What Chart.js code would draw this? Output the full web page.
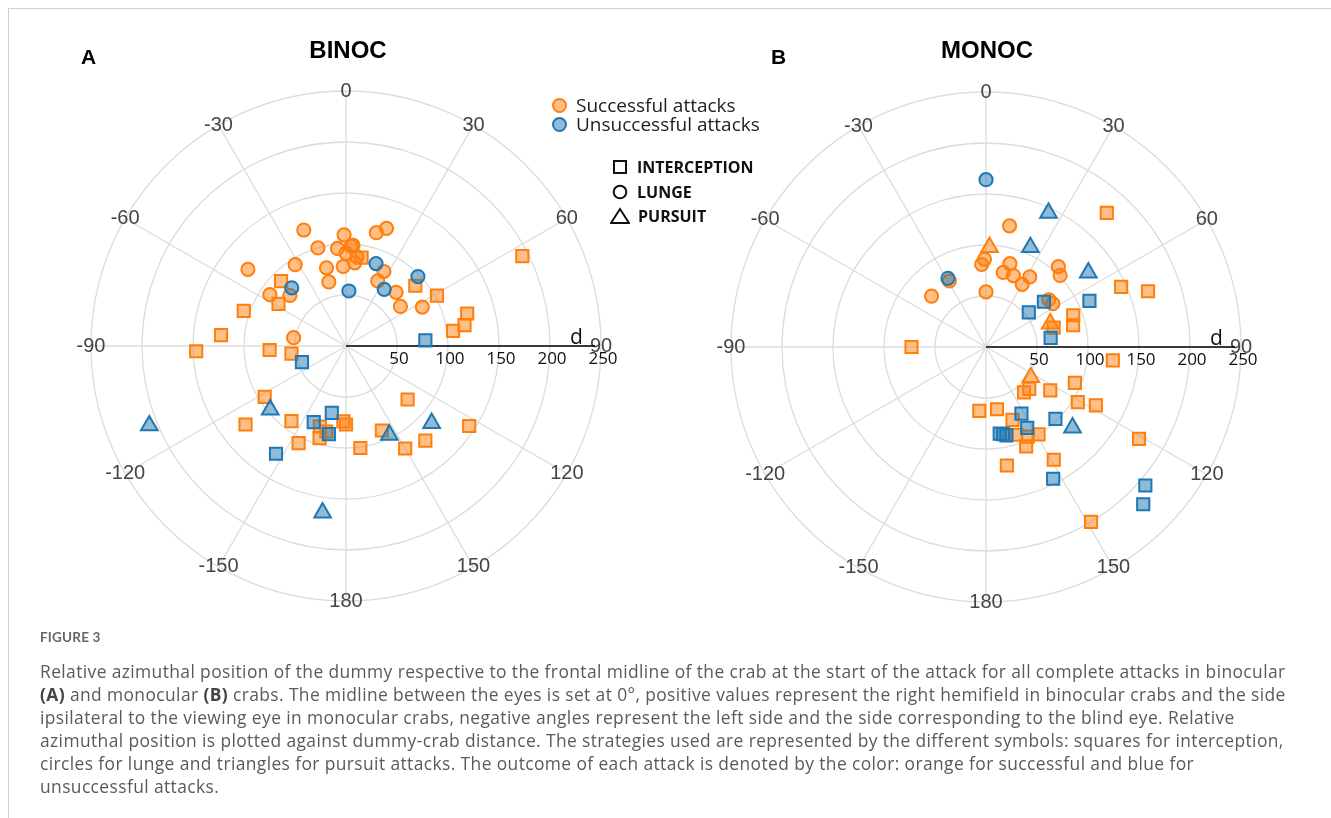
<!DOCTYPE html>
<html>
<head>
<meta charset="utf-8">
<script src="https://cdn.jsdelivr.net/npm/chart.js@4.4.1/dist/chart.umd.min.js"></script>
<style>
  body { margin: 0; width: 1331px; height: 818px; background: #fff; position: relative; overflow: hidden; font-family: "Liberation Sans", Arial, sans-serif; }
  .frame { position: absolute; left: 8px; top: 8px; right: -2px; bottom: -2px; border-left: 1px solid #d0d0d0; border-top: 1px solid #d0d0d0; }
  canvas { position: absolute; }
  .title { position: absolute; width: 200px; text-align: center; font: bold 24px "Liberation Sans", Arial, sans-serif; line-height: 24px; color: #000; }
  .letter { position: absolute; font: bold 21px "Liberation Sans", Arial, sans-serif; line-height: 22px; color: #000; }
  .lg { position: absolute; display: flex; align-items: center; height: 24px; white-space: nowrap; }
  .lg svg { margin-right: 8px; }
  .lg1 { font: 19px "Open Sans", sans-serif; color: #222; }
  .lg2 { font: bold 16px "Open Sans", sans-serif; color: #111; }
  .figno { position: absolute; left: 40px; top: 629px; font: bold 13.5px Lato, sans-serif; color: #666; letter-spacing: 0.2px; }
  .caption { position: absolute; left: 40px; top: 660px; font: 17.4px "Open Sans", sans-serif; letter-spacing: 0.4px; line-height: 23px; color: #5a5a5a; white-space: nowrap; }
  .caption b { color: #444; }
</style>
</head>
<body>
<div class="frame"></div>
<canvas id="binoc" width="640" height="640" style="left:26px; top:26px;"></canvas>
<canvas id="monoc" width="640" height="640" style="left:666px; top:27px;"></canvas>

<div class="letter" style="left:81px; top:46px;">A</div>
<div class="letter" style="left:771px; top:46px;">B</div>
<div class="title" style="left:248px; top:38px;">BINOC</div>
<div class="title" style="left:887px; top:38px;">MONOC</div>

<div class="lg lg1" style="left:551px; top:93px;">
  <svg width="17" height="17"><circle cx="8.5" cy="8.5" r="6.5" fill="rgba(255,127,14,0.5)" stroke="#ff7f0e" stroke-width="2"/></svg>Successful attacks</div>
<div class="lg lg1" style="left:551px; top:112px;">
  <svg width="17" height="17"><circle cx="8.5" cy="8.5" r="6.5" fill="rgba(31,119,180,0.5)" stroke="#1f77b4" stroke-width="2"/></svg>Unsuccessful attacks</div>
<div class="lg lg2" style="left:611px; top:155px;">
  <svg width="18" height="18"><rect x="3" y="3" width="12" height="12" fill="none" stroke="#111" stroke-width="2"/></svg>INTERCEPTION</div>
<div class="lg lg2" style="left:611px; top:180px;">
  <svg width="18" height="18"><circle cx="9" cy="9" r="6.3" fill="none" stroke="#111" stroke-width="2"/></svg>LUNGE</div>
<div class="lg lg2" style="left:610px; top:204px;">
  <svg width="20" height="18"><polygon points="10,2 19,16 1,16" fill="none" stroke="#111" stroke-width="2"/></svg>PURSUIT</div>

<div class="figno">FIGURE 3</div>
<div class="caption">Relative azimuthal position of the dummy respective to the frontal midline of the crab at the start of the attack for all complete attacks in binocular<br><b>(A)</b> and monocular <b>(B)</b> crabs. The midline between the eyes is set at 0°, positive values represent the right hemifield in binocular crabs and the side<br>ipsilateral to the viewing eye in monocular crabs, negative angles represent the left side and the side corresponding to the blind eye. Relative<br>azimuthal position is plotted against dummy-crab distance. The strategies used are represented by the different symbols: squares for interception,<br>circles for lunge and triangles for pursuit attacks. The outcome of each attack is denoted by the color: orange for successful and blue for<br>unsuccessful attacks.</div>

<script>
// polar axes
const ANGLE_TICKS = [0, 30, 60, 90, 120, 150, 180, -150, -120, -90, -60, -30];
const D_TICKS = [50, 100, 150, 200, 250];
const D_MAX = 250;

// BINOC (angle in degrees, d = distance)
const binocSuccInterAng = [10, -45, -58, -71, -85, -92, -93, -98, -122, -144, -128, -154, -162, -167, -164, -178, 180, 172, 131, 157, 150, 140, 123, 61, 49, 75, 80, 82, 63];
const binocSuccInterD   = [88, 90, 78, 106, 123, 147, 75, 54, 94, 91, 125, 106, 83, 86, 94, 74, 77, 101, 80, 90, 116, 121, 144, 102, 90, 123, 118, 106, 194];
const binocSuccLungeAng = [-20, -1, -16, -5, 3, 0, 7, 4, -52, -32, -14, -2, 6, -15, -56, -48, -81, 15, 19, 27, 26, 43, 54, 63];
const binocSuccLungeD   = [121, 109, 100, 96, 98, 91, 88, 99, 122, 94, 79, 78, 82, 65, 90, 74, 52, 115, 122, 82, 71, 72, 66, 84];
const binocFailInterAng = [86, -110, -157, -168, -169, -147];
const binocFailInterD   = [78, 46, 81, 67, 88, 126];
const binocFailLungeAng = [-43, 3, 20, 34, 46];
const binocFailLungeD   = [78, 54, 86, 67, 98];
const binocFailPursAng  = [-130, -112, 154, 132, -172];
const binocFailPursD    = [97, 208, 97, 113, 165];

// MONOC
const monocSuccInterAng = [42, 66, 71, 70, 76, 74, -90, 96, 134, 140, 124, 112, 121, 118, -174, 170, 160, 161, 155, 149, 158, 121, 170, 149, 149];
const monocSuccInterD   = [177, 145, 168, 91, 88, 69, 73, 125, 59, 58, 76, 94, 105, 122, 63, 62, 76, 91, 97, 100, 105, 175, 118, 129, 200];
const monocSuccLungeAng = [11, -1, -3, 16, 13, 21, 32, 30, 42, 46, -29, -47, 0, 53, 57];
const monocSuccLungeD   = [121, 86, 81, 85, 75, 75, 81, 71, 106, 101, 74, 73, 54, 77, 78];
const monocSuccPursAng  = [2, 70, 124];
const monocSuccPursD    = [98, 67, 53];
const monocFailInterAng = [66, 52, 51, 82, 152, 136, 153, 171, 167, 153, 131, 135, 169];
const monocFailInterD   = [111, 72, 54, 64, 74, 98, 89, 86, 89, 145, 207, 218, 87];
const monocFailLungeAng = [0, -29];
const monocFailLungeD   = [164, 77];
const monocFailPursAng  = [25, 24, 54, 133];
const monocFailPursD    = [145, 107, 124, 116];

const ORANGE = { fill: 'rgba(255,127,14,0.5)', line: '#ff7f0e' };
const BLUE = { fill: 'rgba(31,119,180,0.5)', line: '#1f77b4' };
const SHAPES = { rect: 8.6, circle: 6.6, triangle: 9.6 };

// 0 deg = up, positive = clockwise
function toXY(angs, ds) {
  return angs.map((a, i) => {
    const t = a * Math.PI / 180;
    return { x: ds[i] * Math.sin(t), y: ds[i] * Math.cos(t) };
  });
}

function ds(angs, dists, col, shape) {
  return {
    data: toXY(angs, dists),
    pointStyle: shape,
    pointRadius: SHAPES[shape],
    backgroundColor: col.fill,
    borderColor: col.line,
    borderWidth: 2,
    clip: false
  };
}

const polarGrid = {
  id: 'polarGrid',
  beforeDatasetsDraw(chart) {
    const { ctx, scales: { x, y } } = chart;
    const cx = x.getPixelForValue(0), cy = y.getPixelForValue(0);
    const rad = d => x.getPixelForValue(d) - cx;
    const rMax = rad(D_MAX);
    ctx.save();
    ctx.strokeStyle = '#dcdcdc';
    ctx.lineWidth = 1.3;
    D_TICKS.forEach(d => {
      ctx.beginPath();
      ctx.arc(cx, cy, rad(d), 0, Math.PI * 2);
      ctx.stroke();
    });
    ANGLE_TICKS.forEach(a => {
      const t = a * Math.PI / 180;
      ctx.beginPath();
      ctx.moveTo(cx, cy);
      ctx.lineTo(cx + rMax * Math.sin(t), cy - rMax * Math.cos(t));
      ctx.stroke();
    });
    ctx.fillStyle = '#444';
    ctx.font = '20px "Liberation Sans", Arial, sans-serif';
    ctx.textAlign = 'center';
    ctx.textBaseline = 'middle';
    ANGLE_TICKS.forEach(a => {
      const t = a * Math.PI / 180;
      ctx.fillText(String(a), cx + rMax * Math.sin(t), cy - rMax * Math.cos(t));
    });
    // radial axis
    ctx.strokeStyle = '#000';
    ctx.lineWidth = 1.6;
    ctx.beginPath();
    ctx.moveTo(cx, cy);
    ctx.lineTo(cx + rMax - 6, cy);
    ctx.stroke();
    ctx.fillStyle = '#111';
    ctx.font = '17px "Open Sans", sans-serif';
    ctx.textBaseline = 'top';
    D_TICKS.forEach(d => ctx.fillText(String(d), cx + rad(d) + 2, cy + 5));
    ctx.font = '21px "Open Sans", sans-serif';
    ctx.textBaseline = 'alphabetic';
    ctx.fillText('d', cx + rad(226), cy - 2);
    ctx.restore();
  }
};

function makeChart(id, datasets) {
  const LIM = 320 / 1.02;
  return new Chart(document.getElementById(id), {
    type: 'scatter',
    data: { datasets },
    options: {
      responsive: false,
      animation: false,
      events: [],
      layout: { padding: 0, autoPadding: false },
      plugins: { legend: { display: false }, tooltip: { enabled: false } },
      scales: {
        x: { type: 'linear', min: -LIM, max: LIM, display: false },
        y: { type: 'linear', min: -LIM, max: LIM, display: false }
      }
    },
    plugins: [polarGrid]
  });
}

makeChart('binoc', [
  ds(binocFailInterAng, binocFailInterD, BLUE, 'rect'),
  ds(binocFailLungeAng, binocFailLungeD, BLUE, 'circle'),
  ds(binocFailPursAng, binocFailPursD, BLUE, 'triangle'),
  ds(binocSuccInterAng, binocSuccInterD, ORANGE, 'rect'),
  ds(binocSuccLungeAng, binocSuccLungeD, ORANGE, 'circle')
]);

makeChart('monoc', [
  ds(monocFailInterAng, monocFailInterD, BLUE, 'rect'),
  ds(monocFailLungeAng, monocFailLungeD, BLUE, 'circle'),
  ds(monocFailPursAng, monocFailPursD, BLUE, 'triangle'),
  ds(monocSuccInterAng, monocSuccInterD, ORANGE, 'rect'),
  ds(monocSuccLungeAng, monocSuccLungeD, ORANGE, 'circle'),
  ds(monocSuccPursAng, monocSuccPursD, ORANGE, 'triangle')
]);
</script>
</body>
</html>
